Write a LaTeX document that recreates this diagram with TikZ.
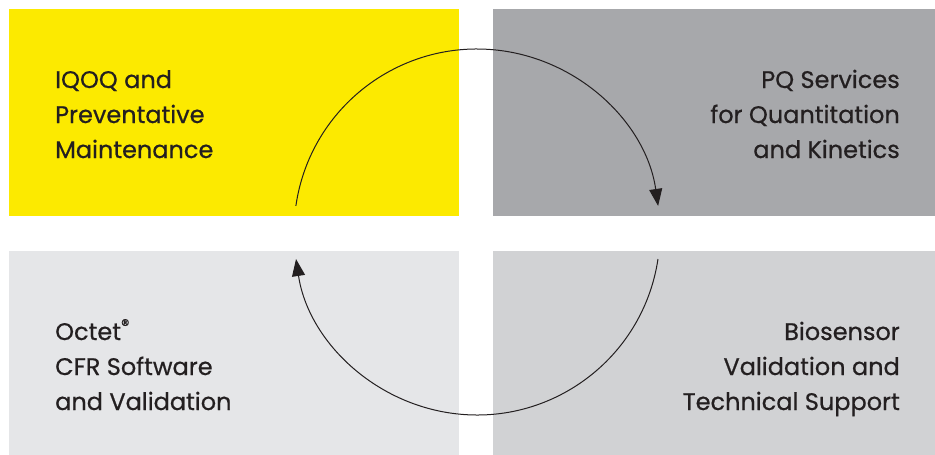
\documentclass[tikz,border=0pt]{standalone}
\usepackage{fontspec}
\setmainfont{Poppins}
\newfontfamily\servicefont[FakeBold=0.6]{Poppins}
\usetikzlibrary{arrows.meta,positioning,calc}

\definecolor{iqoqyellow}{HTML}{FCEA00}
\definecolor{pqgray}{HTML}{A7A8AB}
\definecolor{cfrgray}{HTML}{E5E6E8}
\definecolor{biogray}{HTML}{D1D2D4}
\definecolor{inkdark}{HTML}{231F20}

\begin{document}
\begin{tikzpicture}[x=1pt, y=-1pt,
    quadbox/.style={fill=#1, draw=none, inner sep=0pt, outer sep=0pt,
      minimum height=207pt, anchor=north west},
    boxtext/.style={inner sep=0pt, text=inkdark,
      font=\servicefont\fontsize{24}{35}\selectfont},
    cycle/.style={draw=inkdark, line width=1pt,
      -{Triangle[length=17pt, width=13pt]}}]
    \useasboundingbox (0,0) rectangle (935,455);

    % four service boxes
    \node[quadbox=iqoqyellow, minimum width=450pt] (iqoq) at (9,9) {};
    \node[quadbox=pqgray, minimum width=442pt] (pq) at (493,9) {};
    \node[quadbox=cfrgray, minimum width=450pt, minimum height=204pt] (cfr) at (9,251) {};
    \node[quadbox=biogray, minimum width=442pt, minimum height=204pt] (bio) at (493,251) {};

    % labels (base = last line)
    \node[boxtext, anchor=base west, align=left] (iqoqtxt) at (55,158)
      {IQOQ and\\Preventative\\Maintenance};
    \node[boxtext, anchor=base east, align=right] (pqtxt) at (900,158)
      {PQ Services\\for Quantitation\\and Kinetics};
    \node[boxtext, anchor=base west, align=left] (cfrtxt) at (55,410)
      {Octet\textsuperscript{®}\\CFR Software\\and Validation};
    \node[boxtext, anchor=base east, align=right] (biotxt) at (900,410)
      {Biosensor\\Validation and\\Technical Support};

    % cycle arrows round a common centre
    \coordinate (hub) at (477,232);
    \coordinate (topstart) at ($(hub)+(188.2:183)$);
    \coordinate (botstart) at ($(hub)+(8.5:183)$);
    \draw[cycle] (topstart) arc[start angle=188.2, end angle=351.8, radius=183];
    \draw[cycle] (botstart) arc[start angle=8.5, end angle=171.5, radius=183];
\end{tikzpicture}
\end{document}
